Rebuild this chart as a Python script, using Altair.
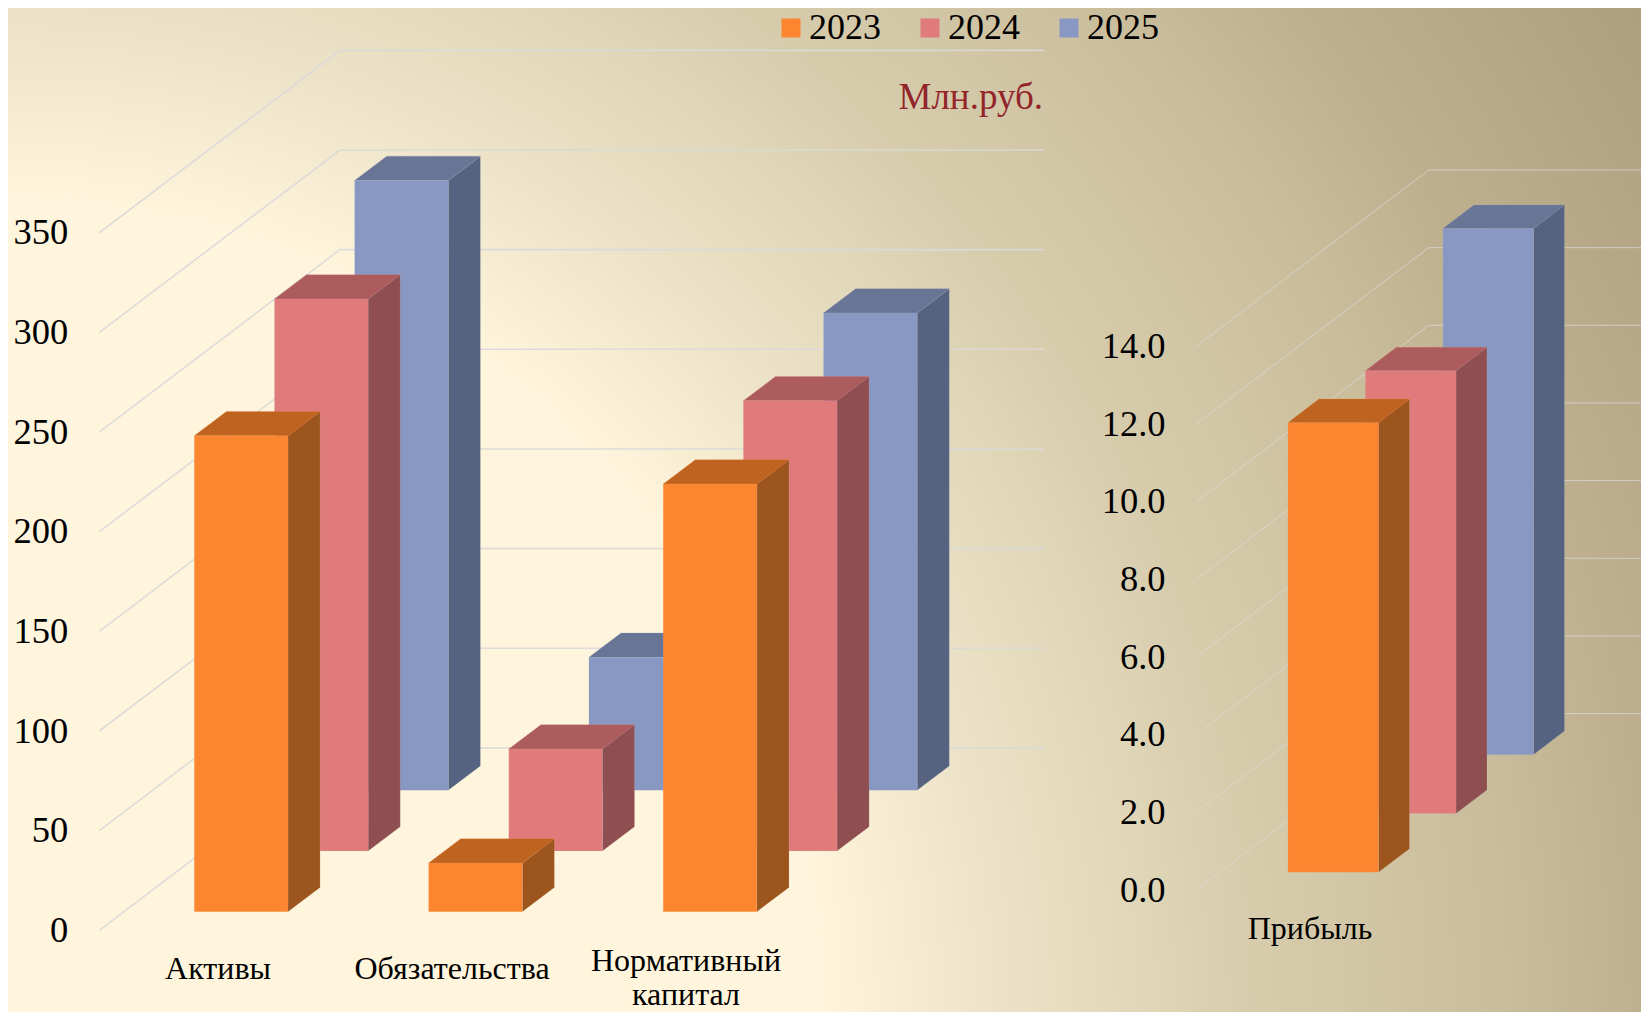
import altair as alt
import pandas as pd

# ---- data ----
YEARS = ["2023", "2024", "2025"]
MAIN_CATS = ["Активы", "Обязательства", "Нормативный капитал"]
MAIN_2023 = [238.8, 24.4, 214.6]
MAIN_2024 = [277.0, 51.2, 225.9]
MAIN_2025 = [306.0, 66.7, 239.5]
PROFIT_CATS = ["Прибыль"]
PROFIT_2023 = [11.58]
PROFIT_2024 = [11.40]
PROFIT_2025 = [13.55]
MAIN_TICKS = [0, 50, 100, 150, 200, 250, 300, 350]
PROFIT_TICKS = [0.0, 2.0, 4.0, 6.0, 8.0, 10.0, 12.0, 14.0]

FRONT = ["#FC8530", "#E07B7C", "#8898C3"]
SIDE = ["#9C551C", "#8F4F51", "#566380"]
TOP = ["#BE6320", "#AC5C5D", "#687595"]
GRID = "#d9d9d9"
FONT = "Liberation Serif"

W, H = 1633, 1004
PAGE = 8

# ---- oblique projection of each panel (page pixels) ----
MAIN = dict(k=1.993, ax0=99.3, ay0=930.3, back_dx=240.7, back_dy=182.4, right=1044.3,
            cat_x=[194.3, 428.6, 663.2], bw=93.7, floor=911.7, sx=80.15, sy=60.7, dx=32.1, dy=24.3, lw=1.6, op=0.9)
PROF = dict(k=38.83, ax0=1196.2, ay0=890.0, back_dx=232.5, back_dy=176.4, right=1660,
            cat_x=[1287.9], bw=90.6, floor=872.3, sx=77.5, sy=58.8, dx=31.0, dy=23.6, lw=1.0, op=0.75)


def faces(p, cats, rows):
    fr, sd, tp = [], [], []
    for s, vals in enumerate(rows):
        for c, v in enumerate(vals):
            x0 = p["cat_x"][c] + s * p["sx"]
            x1 = x0 + p["bw"]
            yb = p["floor"] - s * p["sy"]
            yt = yb - v * p["k"]
            key = f"{cats[c]}-{YEARS[s]}"
            fr.append(dict(s=YEARS[s], x=x0, x2=x1, y=yt, y2=yb, key=key))
            sd += [dict(s=YEARS[s], x=x1, y=yt, y2=yb, key=key),
                   dict(s=YEARS[s], x=x1 + p["dx"], y=yt - p["dy"], y2=yb - p["dy"], key=key)]
            tp += [dict(s=YEARS[s], y=yt, x=x0, x2=x1, key=key),
                   dict(s=YEARS[s], y=yt - p["dy"], x=x0 + p["dx"], x2=x1 + p["dx"], key=key)]
    return fr, sd, tp


def grid(p, ticks, name):
    out = []
    for t in ticks:
        yf = p["ay0"] - t * p["k"]
        key = f"{name}{t}"
        out += [dict(x=p["ax0"], y=yf, i=0, key=key),
                dict(x=p["ax0"] + p["back_dx"], y=yf - p["back_dy"], i=1, key=key),
                dict(x=p["right"], y=yf - p["back_dy"], i=2, key=key)]
    return out


xs = alt.Scale(domain=[PAGE, PAGE + W], nice=False, zero=False)
ys = alt.Scale(domain=[PAGE, PAGE + H], reverse=True, nice=False, zero=False)
X = alt.X("x:Q", scale=xs, axis=None)
Y = alt.Y("y:Q", scale=ys, axis=None, stack=None)
X2 = alt.X2("x2:Q")
Y2 = alt.Y2("y2:Q")

# background: circular gradient about the bottom-left corner of the page
S = 2000
STOPS = [(0, "#fff5dc"), (820, "#fff5dc"), (1000, "#ece2c7"), (1262, "#d6ccac"),
         (1514, "#c9bc9b"), (1649, "#beb08f"), (1939, "#ad9f7e"), (2000, "#aa9c7b")]
bg = alt.Chart(pd.DataFrame([dict(x=0, x2=S, y=1020 - S, y2=1020)])).mark_rect(
    fill={"gradient": "radial", "x1": 0, "y1": 1, "r1": 0, "x2": 0, "y2": 1, "r2": 1,
          "stops": [{"offset": d / S, "color": c} for d, c in STOPS]},
    clip=False,
).encode(x=X, x2=X2, y=Y, y2=Y2)

layers = [bg]
for p, ticks, name in ((MAIN, MAIN_TICKS, "m"), (PROF, PROFIT_TICKS, "p")):
    layers.append(
        alt.Chart(pd.DataFrame(grid(p, ticks, name))).mark_line(color=GRID, strokeWidth=p["lw"], opacity=p["op"])
        .encode(x=X, y=Y, detail="key:N", order="i:Q"))

color = alt.Color("s:N", scale=alt.Scale(domain=YEARS, range=FRONT),
                  legend=alt.Legend(title=None, orient="none", legendX=765, legendY=2, direction="horizontal",
                                    columns=3, columnPadding=31, symbolType="square", symbolSize=361,
                                    symbolStrokeWidth=0, labelFont=FONT, labelFontSize=36, labelColor="#000000",
                                    labelOffset=0, labelLimit=200))

mf, ms, mt = faces(MAIN, MAIN_CATS, [MAIN_2023, MAIN_2024, MAIN_2025])
pf, ps, pt = faces(PROF, PROFIT_CATS, [PROFIT_2023, PROFIT_2024, PROFIT_2025])
for i in (2, 1, 0):
    yr = YEARS[i]
    fr = pd.DataFrame([r for r in mf + pf if r["s"] == yr])
    sd = pd.DataFrame([r for r in ms + ps if r["s"] == yr])
    tp = pd.DataFrame([r for r in mt + pt if r["s"] == yr])
    layers.append(alt.Chart(sd).mark_area(orient="vertical", color=SIDE[i], stroke=GRID, strokeWidth=0.6,
                                          strokeOpacity=0.25, interpolate="linear")
                  .encode(x=X, y=Y, y2=Y2, detail="key:N"))
    layers.append(alt.Chart(tp).mark_area(orient="horizontal", color=TOP[i], stroke=FRONT[i], strokeWidth=0.6,
                                          strokeOpacity=0.4, interpolate="linear")
                  .encode(y=Y, x=alt.X("x:Q", scale=xs, axis=None, stack=None), x2=X2, detail="key:N"))
    layers.append(alt.Chart(fr).mark_rect(stroke=GRID, strokeWidth=0.6, strokeOpacity=0.15)
                  .encode(x=X, x2=X2, y=Y, y2=Y2, color=color))


def txt(rows, size, align, fill="#000000"):
    return alt.Chart(pd.DataFrame(rows)).mark_text(font=FONT, fontSize=size, align=align, baseline="middle",
                                                   color=fill).encode(x=X, y=Y, text="t:N")


layers.append(txt([dict(t=str(t), x=68.2, y=MAIN["ay0"] - t * MAIN["k"] + 0.5) for t in MAIN_TICKS], 36.5, "right"))
layers.append(txt([dict(t=f"{t:.1f}", x=1165.6, y=PROF["ay0"] - t * PROF["k"] + 0.5) for t in PROFIT_TICKS], 36.5, "right"))
layers.append(txt([dict(t=MAIN_CATS[0], x=218, y=969), dict(t=MAIN_CATS[1], x=452, y=969),
                   dict(t="Нормативный", x=686, y=961), dict(t="капитал", x=686, y=995),
                   dict(t=PROFIT_CATS[0], x=1310, y=929)], 32, "center"))
layers.append(txt([dict(t="Млн.руб.", x=1043, y=98)], 37, "right", "#93242a"))

chart = alt.layer(*layers).properties(
    width=W, height=H, padding=0, autosize=alt.AutoSizeParams(type="none"),
).configure_view(stroke=None)

chart.save("out.html", embed_options={"renderer": "svg", "actions": False})
